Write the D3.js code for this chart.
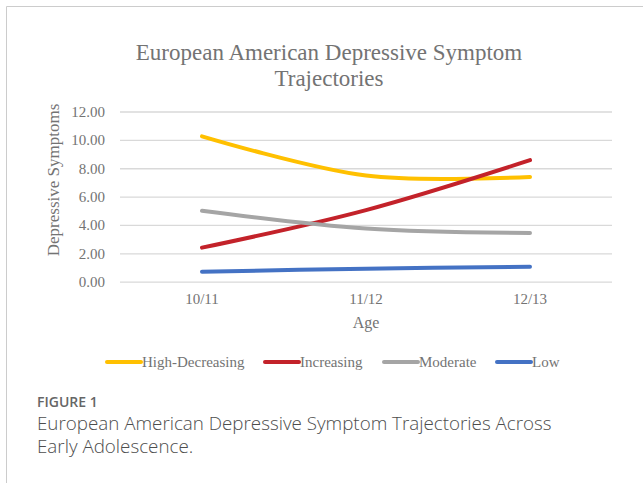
<!DOCTYPE html>
<html>
<head>
<meta charset="utf-8">
<script src="https://cdn.jsdelivr.net/npm/d3@7"></script>
<style>
  body { margin: 0; background: #fff; }
  svg { display: block; }
</style>
</head>
<body>
<div id="chart"></div>
<script>
const width = 643;
const height = 483;

// data
const ages = ["10/11", "11/12", "12/13"];
const seriesNames = ["High-Decreasing", "Increasing", "Moderate", "Low"];
const highDecreasing = [10.25, 7.48, 7.39];
const increasing = [2.40, 5.05, 8.57];
const moderate = [5.00, 3.75, 3.44];
const low = [0.70, 0.92, 1.05];
const yTicks = [0, 2, 4, 6, 8, 10, 12];

const colors = ["#FFC000", "#C3222A", "#A5A5A5", "#4472C4"];
const allSeries = [highDecreasing, increasing, moderate, low];

const svg = d3.select("#chart")
    .append("svg")
    .attr("width", width)
    .attr("height", height);

// frame (top and left border)
svg.append("path")
    .attr("d", "M6.5,483 V6.5 H643")
    .attr("fill", "none")
    .attr("stroke", "#cccccc")
    .attr("stroke-width", 1);

const plot = {left: 120, right: 612, top: 111.5, bottom: 281.7};

const x = d3.scaleBand()
    .domain(ages)
    .range([plot.left, plot.right])
    .padding(0);

const y = d3.scaleLinear()
    .domain([0, 12])
    .range([plot.bottom, plot.top]);

const serif = "'Liberation Serif', 'Times New Roman', serif";
const textGray = "#737373";

// title
svg.append("text")
    .attr("x", 329)
    .attr("y", 60)
    .attr("text-anchor", "middle")
    .attr("font-family", serif)
    .attr("font-size", "23px")
    .attr("fill", textGray)
    .text("European American Depressive Symptom");
svg.append("text")
    .attr("x", 329)
    .attr("y", 86)
    .attr("text-anchor", "middle")
    .attr("font-family", serif)
    .attr("font-size", "23px")
    .attr("fill", textGray)
    .text("Trajectories");

// gridlines + y axis labels
const yAxis = svg.append("g")
    .attr("transform", `translate(${plot.left},0)`)
    .call(d3.axisLeft(y)
        .tickValues(yTicks)
        .tickSize(-(plot.right - plot.left))
        .tickPadding(15)
        .tickFormat(d3.format(".2f")));
yAxis.select(".domain").remove();
yAxis.selectAll(".tick line")
    .attr("stroke", "#d9d9d9")
    .attr("stroke-width", 1.3);
yAxis.selectAll(".tick text")
    .attr("font-family", serif)
    .attr("font-size", "15px")
    .attr("fill", textGray);

// x axis labels
const xAxis = svg.append("g")
    .attr("transform", `translate(0,${plot.bottom})`)
    .call(d3.axisBottom(x).tickSize(0).tickPadding(12));
xAxis.select(".domain").remove();
xAxis.selectAll(".tick text")
    .attr("font-family", serif)
    .attr("font-size", "15px")
    .attr("fill", textGray);

// axis titles
svg.append("text")
    .attr("x", (plot.left + plot.right) / 2)
    .attr("y", 328)
    .attr("text-anchor", "middle")
    .attr("font-family", serif)
    .attr("font-size", "16px")
    .attr("fill", textGray)
    .text("Age");

svg.append("text")
    .attr("transform", "translate(59,180) rotate(-90)")
    .attr("text-anchor", "middle")
    .attr("font-family", serif)
    .attr("font-size", "17px")
    .attr("fill", textGray)
    .text("Depressive Symptoms");

// smoothed lines
const line = d3.line()
    .x((d, i) => x(ages[i]) + x.bandwidth() / 2)
    .y(d => y(d))
    .curve(d3.curveCardinal.tension(0));

svg.append("g")
    .selectAll("path")
    .data(allSeries)
    .enter()
    .append("path")
    .attr("d", d => line(d))
    .attr("fill", "none")
    .attr("stroke", (d, i) => colors[i])
    .attr("stroke-width", 4)
    .attr("stroke-linecap", "round");

// legend
const legendX = [107, 265, 384, 497];
const legend = svg.append("g")
    .selectAll("g")
    .data(seriesNames)
    .enter()
    .append("g")
    .attr("transform", (d, i) => `translate(${legendX[i]},362)`);
legend.append("line")
    .attr("x1", 0)
    .attr("x2", 34)
    .attr("stroke", (d, i) => colors[i])
    .attr("stroke-width", 4)
    .attr("stroke-linecap", "round");
legend.append("text")
    .attr("x", 35)
    .attr("y", 5)
    .attr("font-family", serif)
    .attr("font-size", "15px")
    .attr("fill", textGray)
    .text(d => d);

// caption
const sans = "'Open Sans', 'Noto Sans', sans-serif";
svg.append("text")
    .attr("x", 37)
    .attr("y", 407)
    .attr("font-family", sans)
    .attr("font-size", "14px")
    .attr("font-weight", 600)
    .attr("fill", "#666666")
    .text("FIGURE 1");
const caption = svg.append("text")
    .attr("font-family", sans)
    .attr("font-size", "18.8px")
    .attr("font-weight", 300)
    .attr("fill", "#4d4d4d");
caption.append("tspan")
    .attr("x", 37)
    .attr("y", 430)
    .text("European American Depressive Symptom Trajectories Across");
caption.append("tspan")
    .attr("x", 37)
    .attr("y", 453)
    .text("Early Adolescence.");
</script>
</body>
</html>
